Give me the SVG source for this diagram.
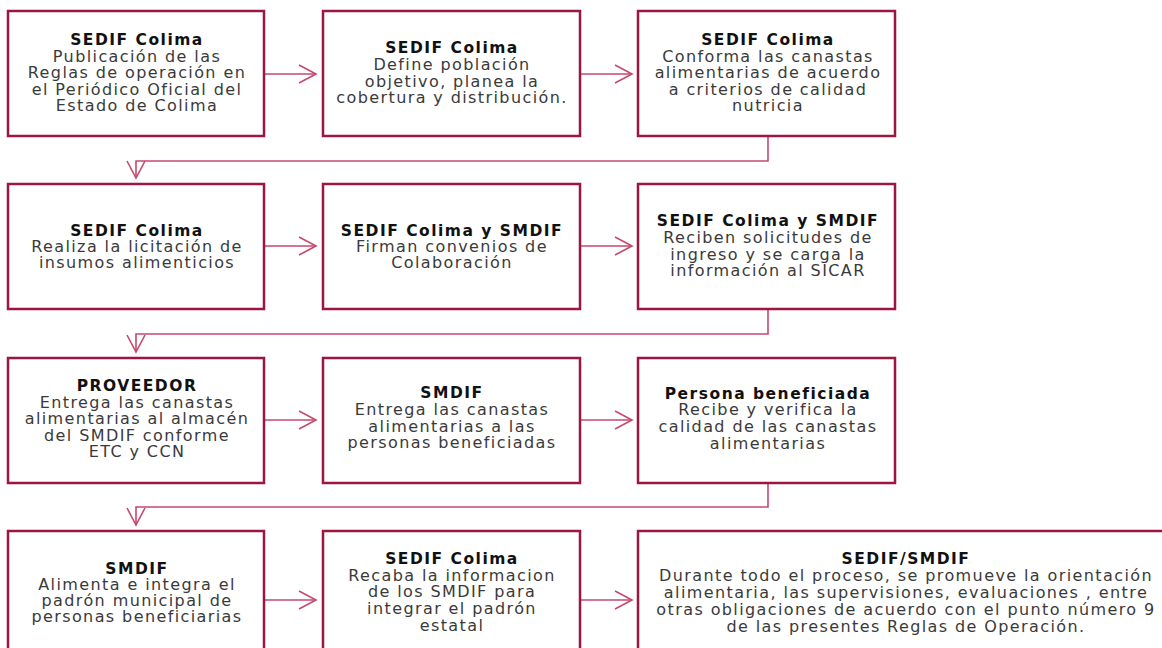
<svg xmlns="http://www.w3.org/2000/svg" width="1162" height="648" viewBox="0 0 1162 648">
<defs>
<style>
.box{fill:#fff;stroke:#9d1640;stroke-width:2.5}
.con{fill:none;stroke:#c4496f;stroke-width:1.6}
text{font-family:"DejaVu Sans","Liberation Sans",sans-serif;text-anchor:middle}
.t{font-weight:bold;font-size:15.5px;fill:#111;letter-spacing:1.5px}
.b{font-size:16px;fill:#3a3a3a;letter-spacing:1.4px}
</style>
<marker id="ah" viewBox="0 0 20 20" refX="18" refY="10" markerWidth="20" markerHeight="20" markerUnits="userSpaceOnUse" orient="auto">
<path d="M1,1 L18,10 L1,19" fill="none" stroke="#c4496f" stroke-width="1.6"/>
</marker>
</defs>
<rect width="1162" height="648" fill="#fff"/>
<g id="connectors">
<line class="con" x1="264" y1="74" x2="316" y2="74" marker-end="url(#ah)"/>
<line class="con" x1="580" y1="74" x2="632" y2="74" marker-end="url(#ah)"/>
<polyline class="con" points="768,136 768,161 136,161 136,178" marker-end="url(#ah)"/>
<line class="con" x1="264" y1="246" x2="316" y2="246" marker-end="url(#ah)"/>
<line class="con" x1="580" y1="246" x2="632" y2="246" marker-end="url(#ah)"/>
<polyline class="con" points="768,309 768,334 136,334 136,352" marker-end="url(#ah)"/>
<line class="con" x1="264" y1="420" x2="316" y2="420" marker-end="url(#ah)"/>
<line class="con" x1="580" y1="420" x2="632" y2="420" marker-end="url(#ah)"/>
<polyline class="con" points="768,483 768,507 136,507 136,525" marker-end="url(#ah)"/>
<line class="con" x1="264" y1="600" x2="316" y2="600" marker-end="url(#ah)"/>
<line class="con" x1="580" y1="600" x2="632" y2="600" marker-end="url(#ah)"/>
</g>
<g id="n1"><rect class="box" x="8" y="11" width="256" height="125"/>
<text class="t" x="137" y="45">SEDIF Colima</text>
<text class="b" x="137" y="62">Publicación de las</text>
<text class="b" x="137" y="78">Reglas de operación en</text>
<text class="b" x="137" y="95">el Periódico Oficial del</text>
<text class="b" x="137" y="111">Estado de Colima</text></g>
<g id="n2"><rect class="box" x="323" y="11" width="257" height="125"/>
<text class="t" x="452" y="53">SEDIF Colima</text>
<text class="b" x="452" y="70">Define población</text>
<text class="b" x="452" y="87">objetivo, planea la</text>
<text class="b" x="452" y="103">cobertura y distribución.</text></g>
<g id="n3"><rect class="box" x="638" y="11" width="257" height="125"/>
<text class="t" x="768" y="45">SEDIF Colima</text>
<text class="b" x="768" y="62">Conforma las canastas</text>
<text class="b" x="768" y="78">alimentarias de acuerdo</text>
<text class="b" x="768" y="95">a criterios de calidad</text>
<text class="b" x="768" y="111">nutricia</text></g>
<g id="n4"><rect class="box" x="8" y="184" width="256" height="125"/>
<text class="t" x="137" y="236">SEDIF Colima</text>
<text class="b" x="137" y="252">Realiza la licitación de</text>
<text class="b" x="137" y="268">insumos alimenticios</text></g>
<g id="n5"><rect class="box" x="323" y="184" width="257" height="125"/>
<text class="t" x="452" y="236">SEDIF Colima y SMDIF</text>
<text class="b" x="452" y="252">Firman convenios de</text>
<text class="b" x="452" y="268">Colaboración</text></g>
<g id="n6"><rect class="box" x="638" y="184" width="257" height="125"/>
<text class="t" x="768" y="226">SEDIF Colima y SMDIF</text>
<text class="b" x="768" y="243">Reciben solicitudes de</text>
<text class="b" x="768" y="260">ingreso y se carga la</text>
<text class="b" x="768" y="276">información al SICAR</text></g>
<g id="n7"><rect class="box" x="8" y="358" width="256" height="125"/>
<text class="t" x="137" y="391">PROVEEDOR</text>
<text class="b" x="137" y="408">Entrega las canastas</text>
<text class="b" x="137" y="424">alimentarias al almacén</text>
<text class="b" x="137" y="441">del SMDIF conforme</text>
<text class="b" x="137" y="457">ETC y CCN</text></g>
<g id="n8"><rect class="box" x="323" y="358" width="257" height="125"/>
<text class="t" x="452" y="398">SMDIF</text>
<text class="b" x="452" y="415">Entrega las canastas</text>
<text class="b" x="452" y="432">alimentarias a las</text>
<text class="b" x="452" y="448">personas beneficiadas</text></g>
<g id="n9"><rect class="box" x="638" y="358" width="257" height="125"/>
<text class="t" x="768" y="399">Persona beneficiada</text>
<text class="b" x="768" y="415">Recibe y verifica la</text>
<text class="b" x="768" y="432">calidad de las canastas</text>
<text class="b" x="768" y="449">alimentarias</text></g>
<g id="n10"><rect class="box" x="8" y="531" width="256" height="130"/>
<text class="t" x="137" y="574">SMDIF</text>
<text class="b" x="137" y="590">Alimenta e integra el</text>
<text class="b" x="137" y="606">padrón municipal de</text>
<text class="b" x="137" y="622">personas beneficiarias</text></g>
<g id="n11"><rect class="box" x="323" y="531" width="257" height="130"/>
<text class="t" x="452" y="564">SEDIF Colima</text>
<text class="b" x="452" y="581">Recaba la informacion</text>
<text class="b" x="452" y="597">de los SMDIF para</text>
<text class="b" x="452" y="614">integrar el padrón</text>
<text class="b" x="452" y="631">estatal</text></g>
<g id="n12"><rect class="box" x="638" y="531" width="534" height="130"/>
<text class="t" x="906" y="564">SEDIF/SMDIF</text>
<text class="b" x="906" y="581">Durante todo el proceso, se promueve la orientación</text>
<text class="b" x="906" y="598">alimentaria, las supervisiones, evaluaciones , entre</text>
<text class="b" x="906" y="615">otras obligaciones de acuerdo con el punto número 9</text>
<text class="b" x="906" y="632">de las presentes Reglas de  Operación.</text></g>
</svg>
